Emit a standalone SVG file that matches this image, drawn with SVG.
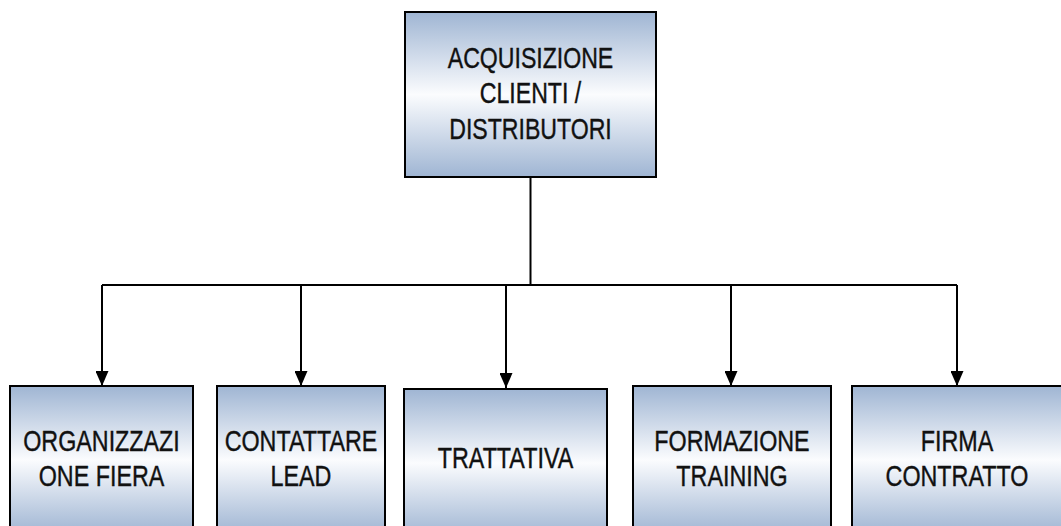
<svg xmlns="http://www.w3.org/2000/svg" width="1061" height="526" viewBox="0 0 1061 526">
  <defs>
    <!-- steel-blue band that fades to white through the middle of each box -->
    <linearGradient id="boxFill" x1="0" y1="0" x2="0" y2="1">
      <stop offset="0" stop-color="#9fb5d3"/>
      <stop offset="0.5" stop-color="#fbfcfe"/>
      <stop offset="1" stop-color="#9fb5d3"/>
    </linearGradient>
    <!-- solid triangular head, drawn along +x so orient="auto" points it down the wire -->
    <marker id="arrow" viewBox="0 0 15 13" refX="15" refY="6.5" markerWidth="15" markerHeight="13" markerUnits="userSpaceOnUse" orient="auto">
      <path d="M0,0 L15,6.5 L0,13 Z" fill="#000"/>
    </marker>
    <style>
      .box { fill: url(#boxFill); stroke: #000; stroke-width: 2; }
      .lbl { font-family: "Liberation Sans", Arial, sans-serif; font-size: 29.5px; fill: #111; stroke: #111; stroke-width: 0.4; text-anchor: middle; }
      .lbl-top { font-size: 30px; }
      .wire { fill: none; stroke: #000; stroke-width: 2; }
    </style>
  </defs>

  <rect width="1061" height="526" fill="#fff"/>

  <!-- connectors: trunk, bus and five drops -->
  <g id="connectors">
    <path class="wire" d="M530.5,177 V285"/>
    <path class="wire" d="M102,285 H957"/>
    <path class="wire" d="M102,285 V386" marker-end="url(#arrow)"/>
    <path class="wire" d="M301,285 V386" marker-end="url(#arrow)"/>
    <path class="wire" d="M506,285 V388" marker-end="url(#arrow)"/>
    <path class="wire" d="M731,285 V386" marker-end="url(#arrow)"/>
    <path class="wire" d="M957,285 V386" marker-end="url(#arrow)"/>
  </g>

  <g id="node-acquisizione">
    <rect class="box" x="405" y="12" width="251" height="165"/>
    <g transform="translate(530.5 0) scale(0.77 1)">
      <text class="lbl lbl-top" x="0" y="68">ACQUISIZIONE</text>
      <text class="lbl lbl-top" x="0" y="103.5">CLIENTI /</text>
      <text class="lbl lbl-top" x="0" y="139">DISTRIBUTORI</text>
    </g>
  </g>

  <g id="node-fiera">
    <rect class="box" x="10" y="386" width="183" height="148"/>
    <g transform="translate(101.5 0) scale(0.79 1)">
      <text class="lbl" x="0" y="451.5">ORGANIZZAZI</text>
      <text class="lbl" x="0" y="486">ONE FIERA</text>
    </g>
  </g>

  <g id="node-lead">
    <rect class="box" x="217" y="386" width="168" height="148"/>
    <g transform="translate(301 0) scale(0.79 1)">
      <text class="lbl" x="0" y="451.5">CONTATTARE</text>
      <text class="lbl" x="0" y="486">LEAD</text>
    </g>
  </g>

  <g id="node-trattativa">
    <rect class="box" x="404" y="389" width="203" height="148"/>
    <g transform="translate(505.5 0) scale(0.79 1)">
      <text class="lbl" x="0" y="468">TRATTATIVA</text>
    </g>
  </g>

  <g id="node-training">
    <rect class="box" x="633" y="386" width="198" height="148"/>
    <g transform="translate(732 0) scale(0.79 1)">
      <text class="lbl" x="0" y="451.5">FORMAZIONE</text>
      <text class="lbl" x="0" y="486">TRAINING</text>
    </g>
  </g>

  <g id="node-contratto">
    <rect class="box" x="852" y="386" width="212" height="148"/>
    <g transform="translate(957 0) scale(0.79 1)">
      <text class="lbl" x="0" y="451.5">FIRMA</text>
      <text class="lbl" x="0" y="486">CONTRATTO</text>
    </g>
  </g>
</svg>
